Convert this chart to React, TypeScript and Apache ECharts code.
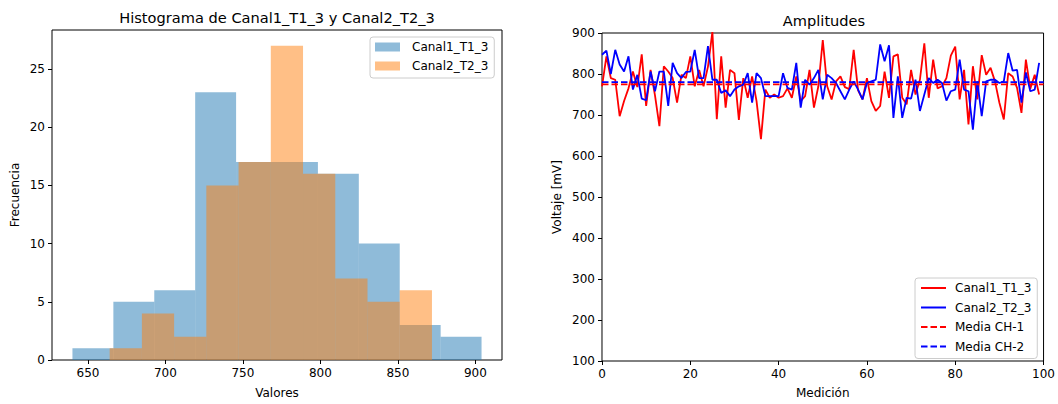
import { useEffect, useRef } from 'react';
import * as echarts from 'echarts';

// histogram counts (10 bins each)
const canal1Counts = [1, 5, 6, 23, 17, 17, 16, 10, 3, 2];
const canal1Range = [640, 904];
const canal2Counts = [1, 4, 2, 15, 17, 27, 16, 7, 5, 6];
const canal2Range = [664, 872];
const histTicks = [650, 700, 750, 800, 850, 900];
const freqTicks = [0, 5, 10, 15, 20, 25];

const canal1 = [
    770, 843, 790, 786, 697, 734, 765, 806, 768, 848,
    722, 810, 748, 673, 819, 806, 790, 730, 798, 790,
    843, 770, 810, 770, 818, 903, 690, 843, 718, 810,
    802, 688, 790, 742, 794, 734, 641, 762, 742, 750,
    742, 746, 765, 742, 794, 734, 746, 810, 718, 770,
    883, 770, 738, 782, 794, 768, 763, 859, 760, 738,
    790, 734, 710, 722, 806, 742, 843, 848, 742, 726,
    810, 750, 786, 875, 742, 835, 765, 770, 790, 845,
    867, 738, 810, 677, 819, 738, 846, 798, 815, 782,
    730, 689, 802, 794, 766, 705, 835, 764, 798, 750,
];
const canal2 = [
    847, 857, 800, 859, 823, 806, 843, 762, 798, 740,
    736, 806, 758, 806, 806, 722, 827, 802, 790, 805,
    806, 859, 790, 790, 868, 786, 786, 754, 760, 746,
    762, 770, 774, 802, 730, 802, 790, 746, 746, 746,
    746, 802, 766, 762, 827, 718, 786, 774, 790, 810,
    738, 798, 790, 778, 758, 738, 762, 782, 762, 738,
    778, 782, 786, 872, 831, 870, 693, 794, 693, 742,
    740, 786, 710, 750, 790, 778, 786, 778, 735, 758,
    762, 835, 762, 758, 664, 782, 697, 782, 786, 786,
    778, 782, 851, 808, 810, 730, 804, 758, 762, 827,
];

const FONT = 'DejaVu Sans';
const C1 = 'rgba(31,119,180,0.5)';
const C2 = 'rgba(255,127,14,0.5)';
const SOLID_ICON = 'path://M0,0H25V2H0Z';
const DASHED_ICON = 'path://M0,0H6.5V2H0Z M9.5,0H16V2H9.5Z M19,0H25V2H19Z';

function binEdges(range: number[], n: number) {
    const step = (range[1] - range[0]) / n;
    return Array.from({ length: n + 1 }, (_, k) => range[0] + k * step);
}

function mean(values: number[]) {
    return values.reduce((a, b) => a + b, 0) / values.length;
}

function histSeries(name: string, counts: number[], range: number[], color: string) {
    const edges = binEdges(range, counts.length);
    return {
        name,
        type: 'custom',
        xAxisIndex: 0,
        yAxisIndex: 0,
        itemStyle: { color },
        encode: { x: [0, 1], y: 2 },
        data: counts.map((c, k) => [edges[k], edges[k + 1], c]),
        renderItem: (_params: any, api: any) => {
            const p0 = api.coord([api.value(0), 0]);
            const p1 = api.coord([api.value(1), api.value(2)]);
            return {
                type: 'rect',
                shape: { x: p0[0], y: p1[1], width: p1[0] - p0[0], height: p0[1] - p1[1] },
                style: { fill: color },
            };
        },
    };
}

const axisText = { color: '#000', fontSize: 12, fontFamily: FONT };

export default function App() {
    const chartRef = useRef<HTMLDivElement>(null);

    useEffect(() => {
        if (!chartRef.current) return;
        const chart = echarts.init(chartRef.current, undefined, { renderer: 'svg' });

        const lo = Math.min(canal1Range[0], canal2Range[0]);
        const hi = Math.max(canal1Range[1], canal2Range[1]);
        const pad = (hi - lo) * 0.05;
        const maxCount = Math.max(...canal1Counts, ...canal2Counts) * 1.05;
        const mean1 = mean(canal1);
        const mean2 = mean(canal2);

        const option = {
            animation: false,
            graphic: [
                {
                    type: 'text', x: 277, y: 17,
                    style: {
                        text: 'Histograma de Canal1_T1_3 y Canal2_T2_3', fill: '#000',
                        font: `14.6px "${FONT}"`, align: 'center', verticalAlign: 'middle',
                        textAlign: 'center', textVerticalAlign: 'middle',
                    },
                },
                {
                    type: 'text', x: 824, y: 20,
                    style: {
                        text: 'Amplitudes', fill: '#000',
                        font: `14.6px "${FONT}"`, align: 'center', verticalAlign: 'middle',
                        textAlign: 'center', textVerticalAlign: 'middle',
                    },
                },
            ],
            grid: [
                { left: 52, top: 30, width: 450, height: 335, show: true, borderColor: '#000', borderWidth: 1 },
                { left: 602, top: 33, width: 445, height: 332, show: true, borderColor: '#000', borderWidth: 1 },
            ],
            legend: [
                {
                    data: [
                        { name: 'hist:Canal1_T1_3', icon: 'rect', itemStyle: { color: C1 } },
                        { name: 'hist:Canal2_T2_3', icon: 'rect', itemStyle: { color: C2 } },
                    ],
                    formatter: (name: string) => name.replace('hist:', ''),
                    orient: 'vertical',
                    left: 370,
                    top: 37,
                    padding: [4, 6, 6, 5],
                    itemWidth: 25,
                    itemHeight: 9,
                    itemGap: 7,
                    selectedMode: false,
                    backgroundColor: 'rgba(255,255,255,0.8)',
                    borderColor: '#cccccc',
                    borderWidth: 1,
                    borderRadius: 3,
                    textStyle: { ...axisText, padding: [0, 0, 0, 7] },
                },
                {
                    data: [
                        { name: 'Canal1_T1_3', icon: SOLID_ICON, itemStyle: { color: '#ff0000' } },
                        { name: 'Canal2_T2_3', icon: SOLID_ICON, itemStyle: { color: '#0000ff' } },
                        { name: 'Media CH-1', icon: DASHED_ICON, itemStyle: { color: '#ff0000' } },
                        { name: 'Media CH-2', icon: DASHED_ICON, itemStyle: { color: '#0000ff' } },
                    ],
                    orient: 'vertical',
                    left: 915,
                    top: 278,
                    padding: [4, 6, 6, 6],
                    itemWidth: 25,
                    itemHeight: 2,
                    itemGap: 7.5,
                    selectedMode: false,
                    backgroundColor: 'rgba(255,255,255,0.8)',
                    borderColor: '#cccccc',
                    borderWidth: 1,
                    borderRadius: 3,
                    textStyle: { ...axisText, padding: [0, 0, 0, 4] },
                },
            ],
            xAxis: [
                {
                    type: 'value', gridIndex: 0, min: lo - pad, max: hi + pad,
                    axisLine: { show: false },
                    axisTick: { show: true, length: 4, customValues: histTicks, lineStyle: { color: '#000' } },
                    axisLabel: { ...axisText, customValues: histTicks, margin: 7 },
                    splitLine: { show: false },
                    name: 'Valores', nameLocation: 'middle', nameGap: 27, nameTextStyle: axisText,
                },
                {
                    type: 'value', gridIndex: 1, min: 0, max: 100, interval: 20,
                    axisLine: { show: false },
                    axisTick: { show: true, length: 4, lineStyle: { color: '#000' } },
                    axisLabel: { ...axisText, margin: 7 },
                    splitLine: { show: false },
                    name: 'Medición', nameLocation: 'middle', nameGap: 26, nameTextStyle: axisText,
                },
            ],
            yAxis: [
                {
                    type: 'value', gridIndex: 0, min: 0, max: maxCount,
                    axisLine: { show: false },
                    axisTick: { show: true, length: 4, customValues: freqTicks, lineStyle: { color: '#000' } },
                    axisLabel: { ...axisText, customValues: freqTicks, margin: 7 },
                    splitLine: { show: false },
                    name: 'Frecuencia', nameLocation: 'middle', nameGap: 31, nameTextStyle: axisText,
                },
                {
                    type: 'value', gridIndex: 1, min: 100, max: 900, interval: 100,
                    axisLine: { show: false },
                    axisTick: { show: true, length: 4, lineStyle: { color: '#000' } },
                    axisLabel: { ...axisText, margin: 7 },
                    splitLine: { show: false },
                    name: 'Voltaje [mV]', nameLocation: 'middle', nameGap: 39, nameTextStyle: axisText,
                },
            ],
            series: [
                histSeries('hist:Canal1_T1_3', canal1Counts, canal1Range, C1),
                histSeries('hist:Canal2_T2_3', canal2Counts, canal2Range, C2),
                {
                    name: 'Canal1_T1_3', type: 'line', xAxisIndex: 1, yAxisIndex: 1,
                    data: canal1.map((v, i) => [i, v]),
                    symbol: 'none', color: '#ff0000',
                    lineStyle: { color: '#ff0000', width: 1.8 },
                },
                {
                    name: 'Canal2_T2_3', type: 'line', xAxisIndex: 1, yAxisIndex: 1,
                    data: canal2.map((v, i) => [i, v]),
                    symbol: 'none', color: '#0000ff',
                    lineStyle: { color: '#0000ff', width: 1.8 },
                },
                {
                    name: 'Media CH-1', type: 'line', xAxisIndex: 1, yAxisIndex: 1,
                    data: [[0, mean1], [100, mean1]],
                    symbol: 'none', color: '#ff0000',
                    lineStyle: { color: '#ff0000', width: 1.8, type: [6.5, 3] },
                },
                {
                    name: 'Media CH-2', type: 'line', xAxisIndex: 1, yAxisIndex: 1,
                    data: [[0, mean2], [100, mean2]],
                    symbol: 'none', color: '#0000ff',
                    lineStyle: { color: '#0000ff', width: 1.8, type: [6.5, 3] },
                },
            ],
        };

        chart.setOption(option as any);

        return () => {
            chart.dispose();
        };
    }, []);

    return (
        <div
            ref={chartRef}
            style={{ position: 'absolute', left: 0, top: 0, width: 1058, height: 404, background: '#fff' }}
        />
    );
}
